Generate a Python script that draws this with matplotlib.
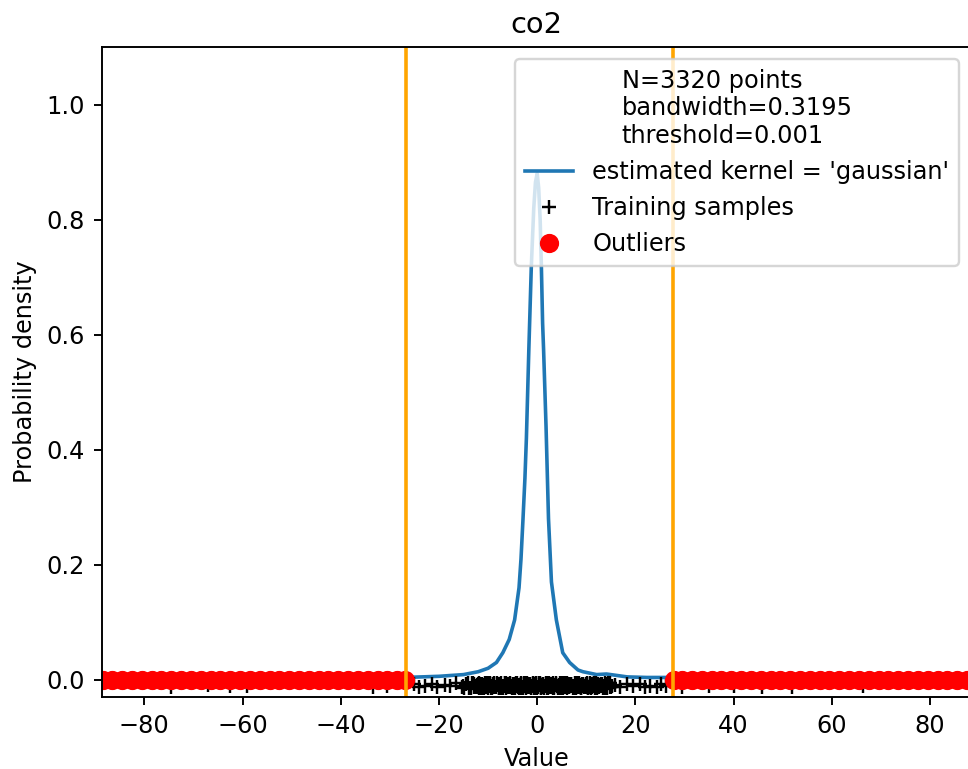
import numpy as np
import matplotlib
matplotlib.use("Agg")
import matplotlib.pyplot as plt

# ===========================================
# DATI
# ===========================================
title = "co2"
n_points = 3320
bandwidth = 0.3195
threshold = 0.001
kernel = "gaussian"

# soglie (linee arancioni)
low_cut = -26.8
high_cut = 27.6

# curva di densita stimata
kde_x = [-88.0, -40.0, -27.0, -20.0, -15.0, -12.0, -10.0, -8.3, -7.0, -5.7,
         -4.6, -3.7, -3.3, -2.9, -2.5, -2.2, -1.7, -1.2, -0.7, -0.35, 0.0,
         0.3, 0.6, 0.85, 1.1, 1.3, 1.8, 2.3, 2.9, 3.9, 5.2, 6.6, 8.3, 9.3,
         12.1, 14.1, 15.8, 18.3, 22.3, 27.3, 40.0, 88.0]
kde_y = [0.0, 0.001, 0.004, 0.006, 0.009, 0.014, 0.020, 0.030, 0.047, 0.070,
         0.104, 0.160, 0.210, 0.278, 0.350, 0.420, 0.575, 0.718, 0.820, 0.865,
         0.880, 0.855, 0.800, 0.718, 0.620, 0.574, 0.440, 0.280, 0.170, 0.104,
         0.047, 0.030, 0.017, 0.014, 0.009, 0.010, 0.008, 0.005, 0.004, 0.004,
         0.001, 0.0]

# campioni di training: code (anche sotto gli outlier)
tail_x = [-74.5, -67.0, -62.6, -59.0, -33.5, -30.5,
          -25.0, -24.0, -22.9, -21.5, -20.3, -18.8, -17.8, -16.5, -15.4,
          -14.4, -13.8,
          15.8, 16.8, 18.2, 19.5, 20.9, 22.0, 22.9, 24.3, 25.3, 26.3,
          29.5, 35.0, 40.0, 45.7, 51.8, 66.3]
tail_y = [-0.012, -0.009, -0.011, -0.010, -0.013, -0.011,
          -0.008, -0.012, -0.010, -0.007, -0.013, -0.009, -0.011, -0.006,
          -0.012, -0.008, -0.014,
          -0.009, -0.012, -0.008, -0.011, -0.007, -0.013, -0.010, -0.012,
          -0.008, -0.011,
          -0.012, -0.010, -0.011, -0.013, -0.012, -0.011]

# campioni di training: zona centrale densa
core_x = [-13.2, -12.8, -12.3, -11.9, -11.6, -11.1, -10.7, -10.4, -9.9, -9.5,
          -9.2, -8.8, -8.3, -7.9, -7.6, -7.2, -6.8, -6.3, -5.9, -5.6, -5.2,
          -4.8, -4.4, -4.0, -3.7, -3.3, -2.9, -2.5, -2.1, -1.8, -1.4, -1.0,
          -0.7, -0.3, 0.1, 0.4, 0.8, 1.2, 1.5, 1.9, 2.3, 2.7, 3.0, 3.4, 3.8,
          4.2, 4.5, 4.9, 5.3, 5.7, 6.0, 6.4, 6.8, 7.2, 7.5, 7.9, 8.3, 8.7,
          9.0, 9.4, 9.8, 10.2, 10.5, 10.9, 11.3, 11.7, 12.0, 12.4, 12.8,
          13.2, 13.6, 14.0, 14.4, 14.8, 15.2,
          -12.6, -11.4, -10.1, -9.0, -8.1, -7.4, -6.6, -6.0, -5.4, -4.6,
          -3.9, -3.1, -2.3, -1.6, -0.9, -0.1, 0.6, 1.3, 2.1, 2.9, 3.6, 4.4,
          5.1, 5.9, 6.6, 7.4, 8.1, 9.2, 10.0, 11.1, 12.2, 13.4, 14.6,
          -14.9, -14.1, -13.5, -13.0, -12.5, -12.1, -11.7, -11.2, -10.9, -10.5,
          -10.0, -9.7, -9.3, -8.9, -8.5, -8.0, -7.7, -7.3, -6.9, -6.5, -6.1,
          -5.7, -5.3, -4.9, -4.5, -4.1, -3.6, -3.2, -2.8, -2.4, -2.0, -1.7,
          -1.3, -0.8, -0.5, -0.2, 0.2, 0.5, 0.9, 1.1, 1.4, 1.7, 2.0, 2.4, 2.8,
          3.1, 3.5, 3.9, 4.3, 4.7, 5.0, 5.4, 5.8, 6.2, 6.5, 6.9, 7.3, 7.7,
          8.0, 8.4, 8.8, 9.1, 9.5, 9.9, 10.3, 10.7, 11.0, 11.5, 11.9, 12.3,
          12.6, 13.0, 13.5, 13.9, 14.2, 14.9]
core_y = [-0.006, -0.012, -0.009, -0.014, -0.007, -0.011, -0.005, -0.013,
          -0.008, -0.010, -0.015, -0.006, -0.012, -0.009, -0.007, -0.014,
          -0.011, -0.005, -0.013, -0.008, -0.010, -0.015, -0.006, -0.012,
          -0.009, -0.007, -0.014, -0.011, -0.005, -0.013, -0.008, -0.010,
          -0.015, -0.006, -0.012, -0.009, -0.014, -0.007, -0.011, -0.005,
          -0.013, -0.008, -0.010, -0.015, -0.006, -0.012, -0.009, -0.007,
          -0.014, -0.011, -0.005, -0.013, -0.008, -0.010, -0.015, -0.006,
          -0.012, -0.009, -0.014, -0.007, -0.011, -0.005, -0.013, -0.008,
          -0.010, -0.015, -0.006, -0.012, -0.009, -0.007, -0.014, -0.011,
          -0.005, -0.013, -0.010,
          -0.010, -0.014, -0.006, -0.012, -0.008, -0.015, -0.005, -0.011,
          -0.013, -0.007, -0.009, -0.014, -0.006, -0.012, -0.008, -0.015,
          -0.005, -0.011, -0.013, -0.007, -0.009, -0.014, -0.006, -0.012,
          -0.008, -0.015, -0.005, -0.011, -0.013, -0.007, -0.009, -0.014,
          -0.006,
          -0.014, -0.006, -0.015, -0.005, -0.013, -0.007, -0.012, -0.008,
          -0.014, -0.006, -0.015, -0.005, -0.013, -0.007, -0.012, -0.008,
          -0.014, -0.006, -0.015, -0.005, -0.013, -0.007, -0.012, -0.008,
          -0.014, -0.006, -0.015, -0.005, -0.013, -0.007, -0.012, -0.008,
          -0.014, -0.006, -0.015, -0.005, -0.013, -0.007, -0.012, -0.008,
          -0.014, -0.006, -0.015, -0.005, -0.013, -0.007, -0.012, -0.008,
          -0.014, -0.006, -0.015, -0.005, -0.013, -0.007, -0.012, -0.008,
          -0.014, -0.006, -0.015, -0.005, -0.013, -0.007, -0.012, -0.008,
          -0.014, -0.006, -0.015, -0.005, -0.013, -0.007, -0.012, -0.008,
          -0.014, -0.006, -0.015, -0.005]

# altri campioni nella zona centrale (ancora piu fitta)
core2_x = [-15.2, -13.7, -12.9, -12.2, -11.8, -11.3, -10.8, -10.2, -9.8, -9.4,
           -9.1, -8.7, -8.2, -7.8, -7.5, -7.1, -6.7, -6.4, -6.2, -5.8, -5.5,
           -5.1, -4.7, -4.3, -4.2, -3.8, -3.4, -3.0, -2.6, -2.2, -1.9, -1.5,
           -1.1, -0.6, -0.4, 0.0, 0.3, 0.7, 1.0, 1.6, 1.8, 2.2, 2.5, 2.6,
           3.2, 3.3, 3.7, 4.0, 4.6, 4.8, 5.2, 5.5, 5.6, 6.1, 6.3, 6.7, 7.0,
           7.6, 7.8, 8.2, 8.5, 8.9, 9.3, 9.7, 10.1, 10.4, 10.8, 11.2, 11.6,
           12.1, 12.5, 12.9, 13.3, 13.8, 14.3, 15.0]
core2_y = [-0.010, -0.015, -0.007, -0.012, -0.005, -0.014, -0.009, -0.011,
           -0.010, -0.015, -0.007, -0.012, -0.005, -0.014, -0.009, -0.011,
           -0.010, -0.015, -0.007, -0.012, -0.005, -0.014, -0.009, -0.011,
           -0.010, -0.015, -0.007, -0.012, -0.005, -0.014, -0.009, -0.011,
           -0.010, -0.015, -0.007, -0.012, -0.005, -0.014, -0.009, -0.011,
           -0.010, -0.015, -0.007, -0.012, -0.005, -0.014, -0.009, -0.011,
           -0.010, -0.015, -0.007, -0.012, -0.005, -0.014, -0.009, -0.011,
           -0.010, -0.015, -0.007, -0.012, -0.005, -0.014, -0.009, -0.011,
           -0.010, -0.015, -0.007, -0.012, -0.005, -0.014, -0.009, -0.011,
           -0.010, -0.015, -0.007, -0.012]

# punti della griglia con densita < soglia (outlier)
outlier_x = [-88.5, -86.5, -84.5, -82.5, -80.5, -78.5, -76.5, -74.5, -72.5,
             -70.5, -68.5, -66.5, -64.5, -62.5, -60.5, -58.5, -56.5, -54.5,
             -52.5, -50.5, -48.5, -46.5, -44.5, -42.5, -40.5, -38.5, -36.5,
             -34.5, -32.5, -30.5, -28.5, -27.0,
             27.8, 29.5, 31.5, 33.5, 35.5, 37.5, 39.5, 41.5, 43.5, 45.5, 47.5,
             49.5, 51.5, 53.5, 55.5, 57.5, 59.5, 61.5, 63.5, 65.5, 67.5, 69.5,
             71.5, 73.5, 75.5, 77.5, 79.5, 81.5, 83.5, 85.5, 87.5, 89.5]

sample_x = tail_x + core_x + core2_x
sample_y = tail_y + core_y + core2_y

# ===========================================
# GRAFICO
# ===========================================
dpi = 173
fig = plt.figure(figsize=(968/dpi, 769/dpi), dpi=dpi)
ax = fig.add_axes([0.1054, 0.0936, 0.8976, 0.8453])

ax.plot(kde_x, kde_y, '-', color='tab:blue', label=f"estimated kernel = '{kernel}'")
ax.plot(sample_x, sample_y, '+k', label='Training samples')
ax.plot(outlier_x, np.zeros(len(outlier_x)), 'ro', markersize=7, label='Outliers')
ax.axvline(low_cut, color='orange')
ax.axvline(high_cut, color='orange')

ax.set_xlim(-88.6, 88.3)
ax.set_ylim(-0.03, 1.1)
ax.set_title(title)
ax.set_xlabel('Value')
ax.set_ylabel('Probability density')
ax.legend(loc='upper right',
          title=f"N={n_points} points\nbandwidth={bandwidth}\nthreshold={threshold}")

fig.savefig('out.png', dpi=dpi)
